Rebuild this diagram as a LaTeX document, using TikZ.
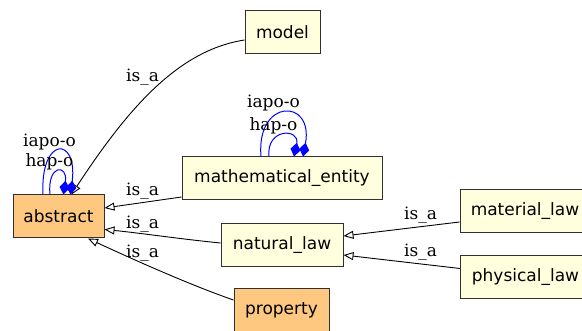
\documentclass[tikz,border=0pt]{standalone}
\usepackage{fontspec}
\setmainfont{DejaVu Serif}
\newfontfamily\boxfont{DejaVu Sans}
\usetikzlibrary{arrows.meta}
\definecolor{clsfill}{HTML}{FFFFDD}
\definecolor{absfill}{HTML}{FFC880}
\definecolor{rim}{HTML}{303030}
\begin{document}
\begin{tikzpicture}[x=1pt,y=-1pt,
  box/.style={draw=rim, line width=1pt, font=\boxfont\fontsize{17}{20}\selectfont,
              inner sep=0pt, minimum height=43pt},
  cls/.style={box, fill=clsfill},
  abs/.style={box, fill=absfill},
  isa/.style={draw=black, line width=0.9pt,
              -{Triangle[open, length=10pt, width=8pt, fill=white]}},
  part/.style={draw=blue, line width=1pt,
               -{Diamond[length=14pt, width=10pt, fill=blue]}},
  lbl/.style={font=\fontsize{17}{20}\selectfont, inner sep=0pt}]
\useasboundingbox (0,0) rectangle (582,331);
\clip (0,0) rectangle (582,331);

% classes
\node[abs, minimum width=91pt]  (abstract) at (58.5,216.5) {abstract};
\node[cls, minimum width=75pt]  (model)    at (282.5,32.5) {model};
\node[cls, minimum width=200pt] (math)     at (282,178.5)  {mathematical\_entity};
\node[cls, minimum width=122pt] (natlaw)   at (282,245)    {natural\_law};
\node[cls, minimum width=130pt] (matlaw)   at (525,211.5)  {material\_law};
\node[cls, minimum width=130pt] (phylaw)   at (525.5,277.5){physical\_law};
\node[abs, minimum width=95pt]  (property) at (281.5,310.5){property};

% is_a relations
\draw[isa] ([yshift=-7.5pt]model.west) .. controls (180,50) and (130,105) .. ([xshift=13pt]abstract.north);
\draw[isa] ([yshift=-18.5pt]math.west) -- ([yshift=8.5pt]abstract.east);
\draw[isa] ([yshift=2pt]natlaw.west) .. controls (180,239) and (140,233) .. ([yshift=-13pt]abstract.east);
\draw[isa] ([yshift=10.5pt]property.west) .. controls (190,285) and (130,258) .. ([xshift=29.5pt]abstract.south);
\draw[isa] ([yshift=-10.5pt]matlaw.west) -- ([yshift=9pt]natlaw.east);
\draw[isa] ([yshift=9pt]phylaw.west) -- ([yshift=-10pt]natlaw.east);

\node[lbl] (l1) at (142.5,77)  {is\_a};
\node[lbl] (l2) at (142.5,191) {is\_a};
\node[lbl] (l3) at (142.5,224) {is\_a};
\node[lbl] (l4) at (142.5,253) {is\_a};
\node[lbl] (l5) at (420.5,215) {is\_a};
\node[lbl] (l6) at (420.5,252) {is\_a};

% part-of self loops
\draw[part] ([xshift=-15.5pt]abstract.north) .. controls (40,136) and (78,136) .. ([xshift=12pt]abstract.north);
\draw[part] ([xshift=-8.5pt]abstract.north) .. controls (47,164) and (68,164) .. ([xshift=5pt]abstract.north);
\draw[part] ([xshift=-21pt]math.north) .. controls (256,98) and (314,98) .. ([xshift=21pt]math.north);
\draw[part] ([xshift=-13pt]math.north) .. controls (266,128) and (300,128) .. ([xshift=12pt]math.north);

\node[lbl] (a1) at (49.5,142)  {iapo-o};
\node[lbl] (a2) at (49.5,162)  {hap-o};
\node[lbl] (m1) at (273.5,103) {iapo-o};
\node[lbl] (m2) at (273.5,126) {hap-o};
\end{tikzpicture}
\end{document}
